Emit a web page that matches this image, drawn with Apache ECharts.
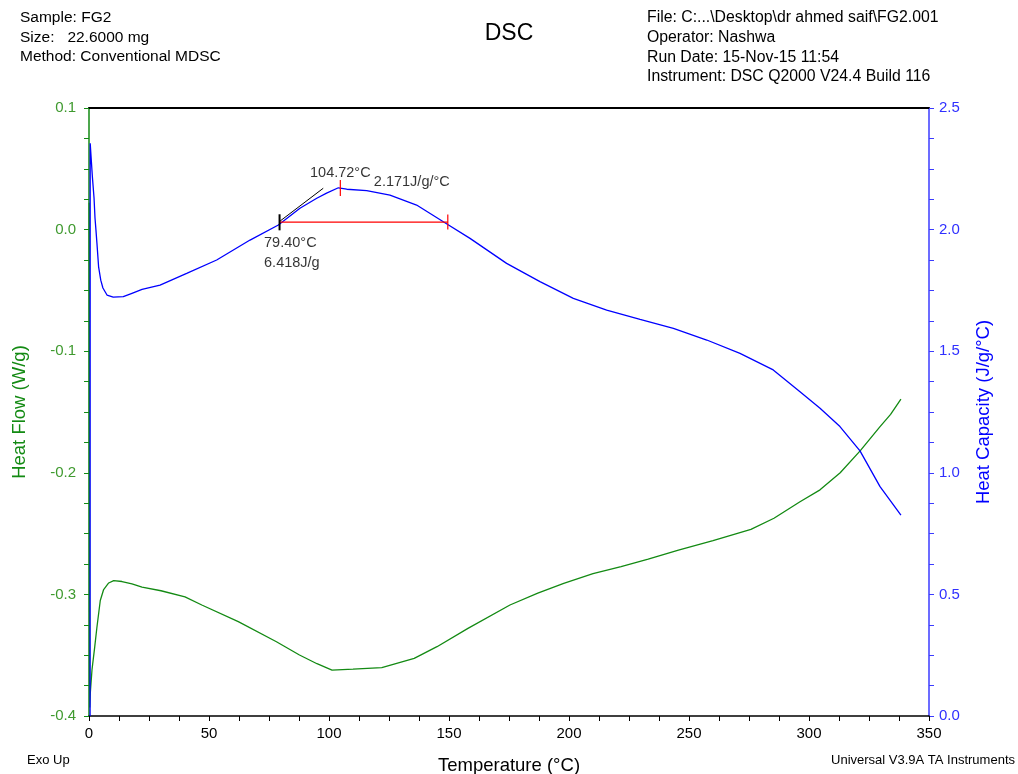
<!DOCTYPE html>
<html>
<head>
<meta charset="utf-8">
<script src="https://cdn.jsdelivr.net/npm/echarts@6/dist/echarts.min.js"></script>
<style>
html,body{margin:0;padding:0;background:#fff;}
#chart{width:1018px;height:774px;}
</style>
</head>
<body>
<div id="chart"></div>
<script>
// ---- Data ----
var heatFlow = [ // [Temperature °C, Heat Flow W/g]
  [0.1,0.022],[0.3,-0.393],[0.54,-0.381],[1.25,-0.362],[2.4,-0.343],[3.3,-0.327],[4.7,-0.305],
  [6.1,-0.296],[8.2,-0.2906],[10.3,-0.2887],[13.75,-0.2894],[17.9,-0.2914],[22.1,-0.294],
  [30,-0.297],[40,-0.302],[47,-0.3087],[62.2,-0.3224],[78.1,-0.3389],[87.7,-0.3498],
  [95,-0.357],[101.25,-0.3622],[110,-0.3615],[122,-0.3603],[135.5,-0.3526],[145,-0.343],
  [157.9,-0.3279],[175.4,-0.3087],[187,-0.299],[197.8,-0.2909],[210,-0.283],[221.7,-0.2772],
  [233,-0.271],[245.6,-0.2635],[260,-0.2557],[275.8,-0.2465],[285.4,-0.2374],[296.25,-0.2238],
  [304.6,-0.214],[313,-0.2],[321.3,-0.182],[329.6,-0.162],[334,-0.152],[338.3,-0.1395]
];
var heatCapacity = [ // [Temperature °C, Heat Capacity J/g/°C]
  [0.45,0.0],[0.5,2.355],[0.95,2.286],[1.4,2.218],[2.1,2.13],[2.5,2.048],[2.9,1.998],[3.3,1.945],
  [4.0,1.847],[4.9,1.792],[5.8,1.76],[7.5,1.731],[10.1,1.722],[14.3,1.724],[17.9,1.738],
  [22.1,1.754],[29.6,1.772],[40.7,1.820],[53.2,1.875],[67.1,1.957],[78.9,2.019],[87.9,2.088],
  [94.9,2.129],[99,2.15],[103.9,2.172],[107.4,2.166],[115.7,2.160],[125.4,2.142],[136.5,2.101],
  [148.3,2.028],[158.75,1.964],[174.0,1.861],[187.9,1.786],[201.8,1.717],[215.7,1.669],
  [229.6,1.631],[243.5,1.594],[257.4,1.546],[271.25,1.491],[285.1,1.423],[296.25,1.333],
  [304.6,1.265],[312.9,1.190],[321.25,1.090],[329.6,0.943],[338.3,0.826]
];
// Annotation (glass transition analysis) on heat capacity scale
var tgOnset = [79.4, 2.031];
var tgPeak = [104.72, 2.171];
var tgEnd = [149.5, 2.031];
var tangentLine = [[79.2, 2.032],[97.6, 2.170]];
var onsetTick = [[79.4, 1.997],[79.4, 2.063]];
var peakTick = [[104.72, 2.138],[104.72, 2.204]];
var endTick = [[149.5, 2.0],[149.5, 2.062]];
var baseLine = [[79.4, 2.031],[149.5, 2.031]];
var labelPeakT = '104.72°C';
var labelPeakCp = '2.171J/g/°C';
var labelOnset = '79.40°C\n6.418J/g';

var xTicks = {min:0, max:350, interval:50};
var hfTicks = {min:-0.4, max:0.1, interval:0.1};
var cpTicks = {min:0, max:2.5, interval:0.5};

var headerLeft = ['Sample: FG2', 'Size:   22.6000 mg', 'Method: Conventional MDSC'];
var headerRight = ['File: C:...\\Desktop\\dr ahmed saif\\FG2.001', 'Operator: Nashwa',
                   'Run Date: 15-Nov-15 11:54', 'Instrument: DSC Q2000 V24.4 Build 116'];

// ---- Chart ----
var FONT = 'Liberation Sans, Arial, sans-serif';
var GREEN = '#138a13';
var BLUE = '#0000ff';
var chart = echarts.init(document.getElementById('chart'), null, {renderer:'canvas'});

function lineSeries(data, color, width, yIdx, z) {
  return {type:'line', data:data, yAxisIndex:yIdx, showSymbol:false, symbol:'none',
    lineStyle:{color:color, width:width}, itemStyle:{color:color}, animation:false, z:z||2, silent:true};
}

var graphics = [];
headerLeft.forEach(function(t,i){
  graphics.push({type:'text', left:20, top:10+i*19.6, style:{text:t, font:'15.5px '+FONT, fill:'#000'}});
});
headerRight.forEach(function(t,i){
  graphics.push({type:'text', left:647, top:10+i*19.6, style:{text:t, font:'15.8px '+FONT, fill:'#000'}});
});
graphics.push({type:'text', left:27, top:754, style:{text:'Exo Up', font:'13px '+FONT, fill:'#000'}});
graphics.push({type:'text', right:3, top:754, style:{text:'Universal V3.9A TA Instruments', font:'13px '+FONT, fill:'#000'}});

var option = {
  backgroundColor:'#fff',
  animation:false,
  title:{text:'DSC', left:'center', top:17, textStyle:{fontFamily:FONT, fontSize:23, fontWeight:'normal', color:'#000'}},
  grid:{left:89, right:89, top:108, bottom:58, containLabel:false, outerBoundsMode:'none'},
  graphic:graphics,
  xAxis:[{
    type:'value', position:'bottom', min:xTicks.min, max:xTicks.max, interval:xTicks.interval,
    name:'Temperature (°C)', nameLocation:'middle', nameGap:40,
    nameTextStyle:{fontFamily:FONT, fontSize:18.5, color:'#000'},
    axisLine:{show:true, onZero:false, lineStyle:{color:'#000', width:1.5}},
    axisTick:{show:true, inside:false, length:5, lineStyle:{color:'#000'}},
    minorTick:{show:true, splitNumber:4, length:5, lineStyle:{color:'#000'}},
    axisLabel:{fontFamily:FONT, fontSize:15, color:'#000', margin:10},
    splitLine:{show:false}
  },{
    type:'value', position:'top', min:xTicks.min, max:xTicks.max,
    axisLine:{show:true, onZero:false, lineStyle:{color:'#000', width:2}},
    axisTick:{show:false}, axisLabel:{show:false}, splitLine:{show:false}
  }],
  yAxis:[{
    type:'value', position:'left', min:hfTicks.min, max:hfTicks.max, interval:hfTicks.interval,
    name:'Heat Flow (W/g)', nameLocation:'middle', nameGap:60,
    nameTextStyle:{fontFamily:FONT, fontSize:18.5, color:GREEN},
    axisLine:{show:true, onZero:false, lineStyle:{color:GREEN, width:1.5}},
    axisTick:{show:true, length:5, lineStyle:{color:GREEN}},
    minorTick:{show:true, splitNumber:4, length:5, lineStyle:{color:GREEN}},
    axisLabel:{fontFamily:FONT, fontSize:15, color:'#3f9a2f', margin:13, formatter:function(v){return (Math.abs(v)<1e-9?0:v).toFixed(1);}},
    splitLine:{show:false}
  },{
    type:'value', position:'right', min:cpTicks.min, max:cpTicks.max, interval:cpTicks.interval,
    name:'Heat Capacity (J/g/°C)', nameLocation:'middle', nameGap:45, nameRotate:90,
    nameTextStyle:{fontFamily:FONT, fontSize:18.5, color:BLUE},
    axisLine:{show:true, onZero:false, lineStyle:{color:'#3b3bff', width:1.5}},
    axisTick:{show:true, length:5, lineStyle:{color:'#3b3bff'}},
    minorTick:{show:true, splitNumber:4, length:5, lineStyle:{color:'#3b3bff'}},
    axisLabel:{fontFamily:FONT, fontSize:15, color:'#3030ff', margin:10, formatter:function(v){return v.toFixed(1);}},
    splitLine:{show:false}
  }],
  series:[
    lineSeries(heatFlow, GREEN, 1.3, 0, 2),
    lineSeries(heatCapacity, BLUE, 1.3, 1, 3),
    lineSeries(baseLine, '#ff0000', 1.2, 1, 6),
    lineSeries(endTick, '#ff0000', 1.2, 1, 6),
    lineSeries(peakTick, '#ff0000', 1.2, 1, 6),
    lineSeries(tangentLine, '#000', 1, 1, 5),
    lineSeries(onsetTick, '#000', 2, 1, 7),
    {type:'scatter', yAxisIndex:1, symbolSize:1, itemStyle:{color:'rgba(0,0,0,0)'}, z:8, silent:true,
     data:[
      {value:tgPeak, label:{show:true, formatter:labelPeakT, position:'top', distance:7,
        fontFamily:FONT, fontSize:14.5, color:'#000'}},
      {value:tgPeak, label:{show:true, formatter:labelPeakCp, position:[34,-13],
        fontFamily:FONT, fontSize:14.5, color:'#000'}},
      {value:tgOnset, label:{show:true, formatter:labelOnset, position:[-15,12], lineHeight:19.5,
        fontFamily:FONT, fontSize:14.5, color:'#000'}}
     ]}
  ]
};
chart.setOption(option);
</script>
</body>
</html>
